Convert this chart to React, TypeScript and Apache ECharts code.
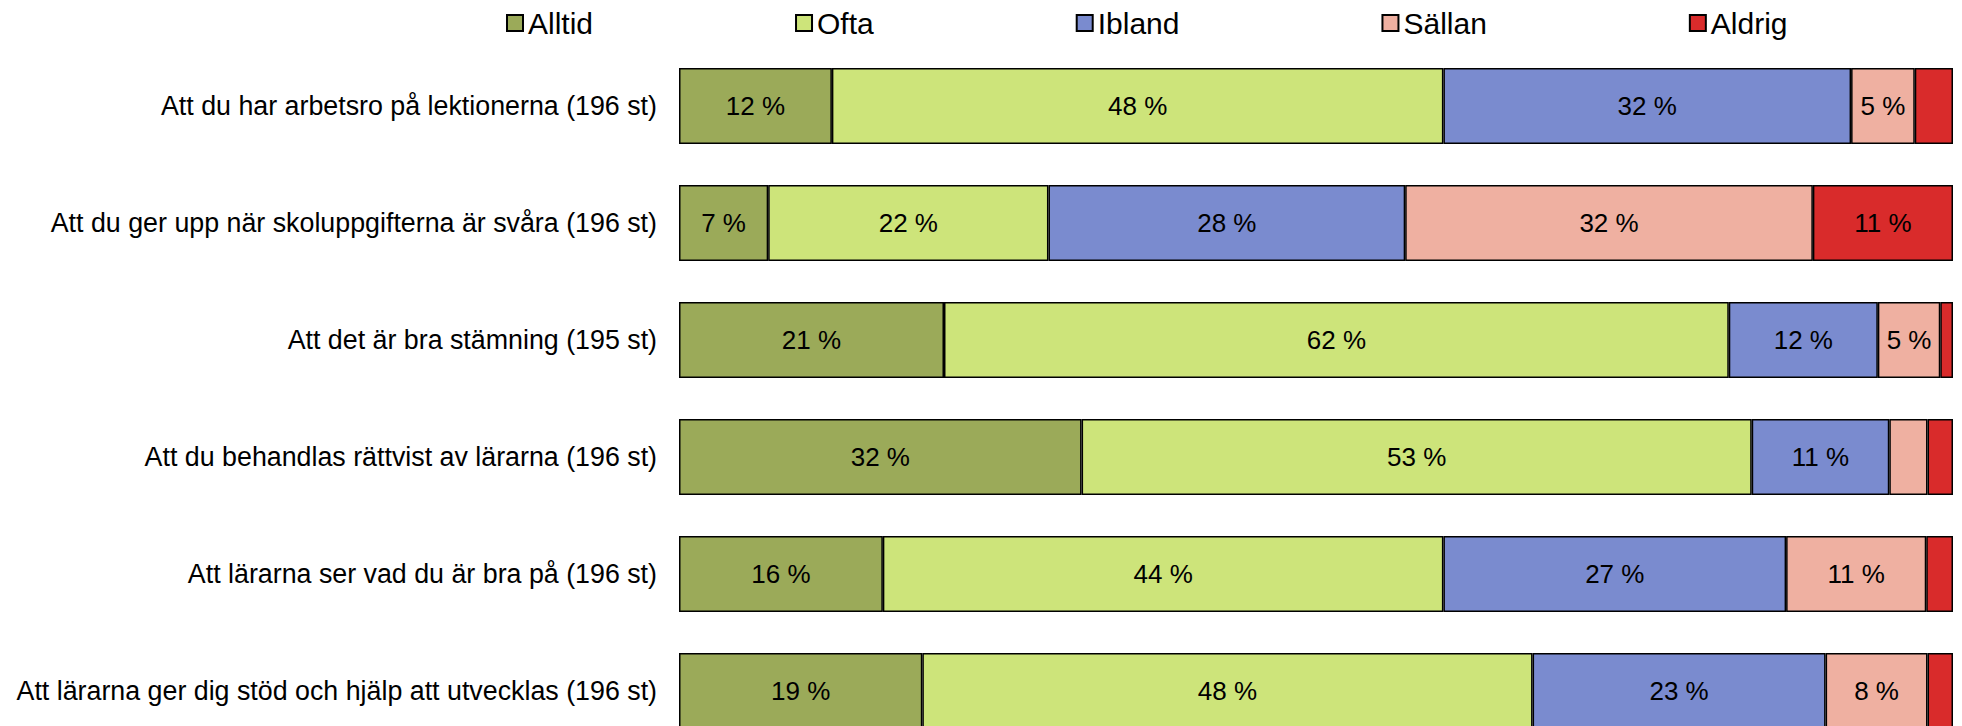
import React, { useEffect, useRef } from "react";
import * as echarts from "echarts";

const categories = [
  "Att du har arbetsro på lektionerna (196 st)",
  "Att du ger upp när skoluppgifterna är svåra (196 st)",
  "Att det är bra stämning (195 st)",
  "Att du behandlas rättvist av lärarna (196 st)",
  "Att lärarna ser vad du är bra på (196 st)",
  "Att lärarna ger dig stöd och hjälp att utvecklas (196 st)",
];

const seriesNames = ["Alltid", "Ofta", "Ibland", "Sällan", "Aldrig"];
const alltid = [12.0, 7.0, 20.8, 31.6, 16.0, 19.1];
const ofta = [48.0, 22.0, 61.6, 52.6, 44.0, 47.9];
const ibland = [32.0, 28.0, 11.7, 10.8, 26.9, 23.0];
const sallan = [5.0, 32.0, 4.9, 3.0, 11.0, 8.0];
const aldrig = [3.0, 11.0, 1.0, 2.0, 2.1, 2.0];
const seriesValues = [alltid, ofta, ibland, sallan, aldrig];
const colors = ["#9BAA59", "#CDE47A", "#7A8BCF", "#EFB0A1", "#D92B2B"];

const FONT = "Liberation Sans, Arial, sans-serif";

export default function App() {
  const ref = useRef<HTMLDivElement>(null);
  useEffect(() => {
    if (!ref.current) return;
    const chart = echarts.init(ref.current, null, { renderer: "svg" });
    chart.setOption({
      animation: false,
      legend: {
        data: seriesNames,
        left: 506,
        top: 8,
        padding: 0,
        itemGap: 202,
        itemWidth: 16,
        itemHeight: 16,
        icon: "rect",
        textStyle: { fontFamily: FONT, fontSize: 30, color: "#000" },
        selectedMode: false,
      },
      grid: { left: 679, right: 9, top: 47.5, height: 702, containLabel: false },
      xAxis: { type: "value", min: 0, max: 100, show: false },
      yAxis: {
        type: "category",
        data: categories,
        inverse: true,
        axisLine: { show: false },
        axisTick: { show: false },
        axisLabel: { fontFamily: FONT, fontSize: 26.8, color: "#000", margin: 22 },
      },
      series: seriesNames.map((n, i) => ({
        name: n,
        type: "bar",
        stack: "total",
        barWidth: 76,
        data: seriesValues[i],
        itemStyle: { color: colors[i], borderColor: "#000", borderWidth: 1.5 },
        label: {
          show: true,
          position: "inside",
          fontFamily: FONT,
          fontSize: 26,
          color: "#000",
          formatter: (p: any) => (p.value >= 4 ? Math.round(p.value) + " %" : ""),
        },
      })),
    });
    return () => chart.dispose();
  }, []);
  return (
    <div
      style={{
        position: "absolute",
        left: 0,
        top: 0,
        width: 1962,
        height: 726,
        overflow: "hidden",
        background: "#fff",
      }}
    >
      <div ref={ref} style={{ width: 1962, height: 760 }} />
    </div>
  );
}
